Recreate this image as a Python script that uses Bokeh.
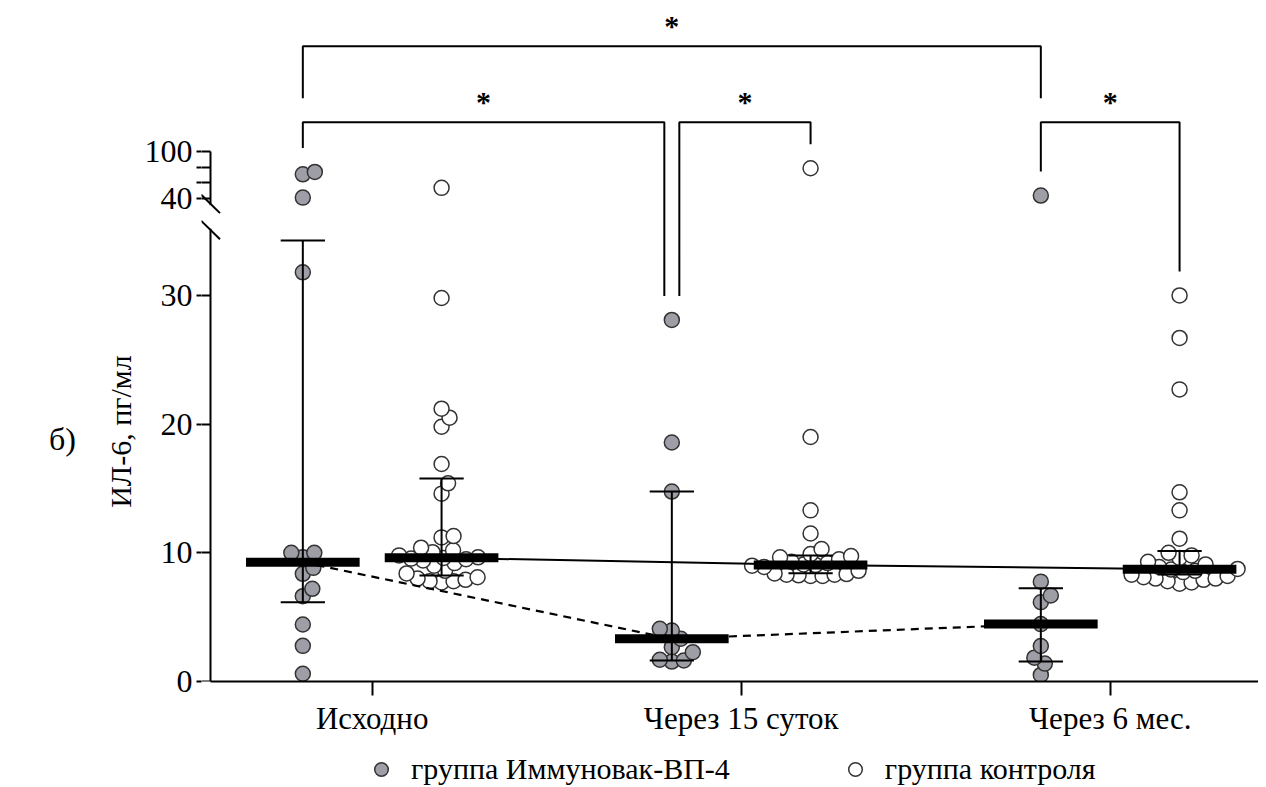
import numpy as np
from bokeh.plotting import figure
from bokeh.layouts import row, column
from bokeh.models import (ColumnDataSource, FixedTicker, BoxAnnotation, PolyAnnotation,
                          Legend, LegendItem, Range1d, LinearAxis)
from bokeh.core.properties import value
from bokeh.embed import file_html
from bokeh.resources import INLINE

# ---------------- data ----------------
categories = ["Исходно", "Через 15 суток", "Через 6 мес."]
series_labels = ["группа Иммуновак-ВП-4", "группа контроля"]
y_title = "ИЛ-6, пг/мл"
panel_letter = "б)"

immun_baseline = [0.6, 2.77, 4.43, 6.63, 7.2, 8.37, 8.83, 9.66, 10.0, 10.0, 31.8, 40.9, 70.8, 73.9]
immun_15d = [1.55, 1.63, 1.69, 2.28, 2.67, 3.32, 3.96, 4.09, 14.76, 18.57, 28.1]
immun_6m = [0.51, 1.39, 1.85, 2.76, 4.46, 6.16, 6.68, 7.76, 43.5]

control_baseline = [7.7, 7.8, 7.8, 7.9, 8.0, 8.1, 8.4, 8.6, 9.0, 9.2, 9.4, 9.5, 9.55, 9.6, 9.65,
                    9.8, 10.05, 10.2, 10.4, 11.2, 11.3, 14.6, 15.4, 16.9, 19.8, 20.5, 21.2, 29.8, 53.4]
control_15d = [8.2, 8.2, 8.25, 8.3, 8.3, 8.35, 8.4, 8.6, 8.9, 9.0, 9.05, 9.1, 9.2, 9.3, 9.5,
               9.65, 9.75, 9.9, 10.3, 11.5, 13.3, 19.0, 78.6]
control_6m = [7.6, 7.7, 7.8, 7.9, 8.0, 8.0, 8.1, 8.2, 8.3, 8.5, 8.6, 8.7, 8.75, 8.9, 9.1, 9.3,
              9.6, 9.8, 10.0, 11.1, 13.3, 14.7, 22.7, 26.7, 30.0]

immun_median = [9.27, 3.32, 4.46]
immun_low = [6.16, 1.63, 1.56]
immun_high = [34.27, 14.76, 7.24]
control_median = [9.61, 9.06, 8.72]
control_low = [8.24, 8.42, 8.32]
control_high = [15.77, 9.79, 10.14]

lower_ticks = [0, 10, 20, 30]
upper_ticks = [40, 60, 80, 100]
upper_tick_labels = ["40", "", "", "100"]

# significance brackets: (category, series) pairs, level (0 = lower, 1 = upper)
brackets = [
    ((0, "i"), (1, "i"), 0),
    ((1, "i"), (1, "c"), 0),
    ((2, "i"), (2, "c"), 0),
    ((0, "i"), (2, "i"), 1),
]

# ---------------- layout ----------------
FONT = "Liberation Serif"
PX_X = 369.0                  # px per category step
CAT0_PX = 371.7               # page x of first category
FRAME_LEFT_PX, AXIS_PX, RIGHT_PX = 201, 210, 1258
LEFT_W = 140
FRAME_W = RIGHT_PX - FRAME_LEFT_PX
FRAME_H = 673
X_RANGE = ((FRAME_LEFT_PX - CAT0_PX) / PX_X, (RIGHT_PX - CAT0_PX) / PX_X)
X_AXIS = (AXIS_PX - CAT0_PX) / PX_X
Y_RANGE = (0.0, 52.3)
PX_Y = FRAME_H / (Y_RANGE[1] - Y_RANGE[0])
BOTTOM_PX = 681


def ypx(page_y):
    return (BOTTOM_PX - page_y) / PX_Y


GROUP_OFF = 0.188
BREAK_BASE, UPPER_SLOPE = 37.55, 0.0605   # upper segment (40..100) display mapping
GRAY = "#9e9ea6"
EDGE = "#333333"
DIAM = 15


def disp(v):
    v = np.asarray(v, dtype=float)
    return np.where(v < 37, v, BREAK_BASE + (v - 40.0) * UPPER_SLOPE)


def swarm(vals, diam=12.0):
    yd = disp(vals) * PX_Y
    order = np.argsort(yd, kind="stable")
    placed, offs = [], np.zeros(len(yd))
    for i in order:
        k = 0
        while True:
            cands = [0.0] if k == 0 else [0.5 * k, -0.5 * k]
            ok = None
            for c in cands:
                if all((c - px) ** 2 + (yd[i] - py) ** 2 >= diam ** 2 for px, py in placed):
                    ok = c
                    break
            if ok is not None:
                offs[i] = ok
                placed.append((ok, yd[i]))
                break
            k += 1
    return offs / PX_X


yr = Range1d(*Y_RANGE)
p = figure(frame_width=FRAME_W, frame_height=FRAME_H, x_range=X_RANGE, y_range=yr,
           output_backend="svg", toolbar_location=None,
           min_border_left=FRAME_LEFT_PX - LEFT_W, min_border_top=8, min_border_right=0,
           min_border_bottom=0)
p.outline_line_color = None
p.grid.visible = False
p.background_fill_color = "white"
p.border_fill_color = "white"

lt = [float(v) for v in disp(lower_ticks)]
ut = [round(float(v), 4) for v in disp(upper_ticks)]
yticks = lt + ut
ov = {v: str(t) for v, t in zip(lt, lower_ticks)}
ov.update({v: s for v, s in zip(ut, upper_tick_labels)})

# x axis
p.xaxis.ticker = FixedTicker(ticks=list(range(len(categories))))
p.xaxis.major_label_overrides = {i: c for i, c in enumerate(categories)}
p.xaxis.bounds = (X_AXIS, X_RANGE[1] + 0.1)
p.xaxis.major_tick_out = 14
p.xaxis.major_label_text_font_size = "31px"
p.xaxis.major_label_standoff = 5

# y axis, outer part: tick labels and outer part of the ticks
ya = p.yaxis[0]
ya.ticker = FixedTicker(ticks=yticks)
ya.major_label_overrides = ov
ya.axis_line_color = None
ya.major_tick_out = 5
ya.major_label_text_font_size = "32px"
ya.major_label_standoff = 4

# y axis, inner part at the axis position (broken line + inner part of ticks)
yb = LinearAxis(fixed_location=X_AXIS, ticker=FixedTicker(ticks=yticks),
                major_label_overrides={v: "" for v in yticks}, bounds=(0, ut[-1]))
yb.major_tick_out = 0
yb.major_tick_in = AXIS_PX - FRAME_LEFT_PX
yb.major_label_standoff = 0
p.add_layout(yb, "right")

for ax in (p.xaxis[0], ya, yb):
    ax.axis_line_width = 2
    if ax is not ya:
        ax.axis_line_color = "black"
    ax.major_tick_line_width = 2
    ax.major_tick_line_color = "black"
    ax.minor_tick_line_color = None
    ax.major_label_text_font = FONT
    ax.major_label_text_color = "black"
p.xaxis.major_tick_in = 0
ya.major_tick_in = 0

series = [
    ("i", [immun_baseline, immun_15d, immun_6m], immun_median, immun_low, immun_high, -GROUP_OFF, GRAY),
    ("c", [control_baseline, control_15d, control_6m], control_median, control_low, control_high, GROUP_OFF, "white"),
]

top_of = {}
for key, groups, med, lo, hi, off, fill in series:
    xs, ys = [], []
    for gi, vals in enumerate(groups):
        jitter = swarm(vals)
        xs += list(gi + off + jitter)
        ys += list(disp(vals))
        top_of[(gi, key)] = float(disp(vals).max())
    src = ColumnDataSource(dict(x=xs, y=ys))
    p.scatter("x", "y", source=src, size=DIAM, marker="circle", fill_color=fill,
              line_color=EDGE, line_width=1.5)

# connecting lines between medians
cx = np.arange(len(categories))
p.line(cx - GROUP_OFF, immun_median, line_color="black", line_width=2.2, line_dash="8 6")
p.line(cx + GROUP_OFF, control_median, line_color="black", line_width=2)

# error bars + median bars
for key, groups, med, lo, hi, off, fill in series:
    x = cx + off
    lo_d, hi_d = disp(lo), disp(hi)
    p.segment(x, lo_d, x, hi_d, line_color="black", line_width=2)
    p.segment(x - 0.06, hi_d, x + 0.06, hi_d, line_color="black", line_width=2)
    p.segment(x - 0.06, lo_d, x + 0.06, lo_d, line_color="black", line_width=2)
    p.segment(x - 0.154, med, x + 0.154, med, line_color="black", line_width=9, line_cap="butt")

# significance brackets
gap = 24 / PX_Y
level_y = [ypx(121.7), ypx(45.7)]
leg_shift = 7.5 / PX_X
stars_x, stars_y = [], []
for (g0, s0), (g1, s1), lev in brackets:
    xa = g0 + (-GROUP_OFF if s0 == "i" else GROUP_OFF)
    xb = g1 + (-GROUP_OFF if s1 == "i" else GROUP_OFF)
    if lev == 0 and (g0, s0) == (1, "i"):
        xa += leg_shift
    if lev == 0 and (g1, s1) == (1, "i"):
        xb -= leg_shift
    ly = level_y[lev]
    if lev == 0:
        ya_, yb_ = top_of[(g0, s0)] + gap, top_of[(g1, s1)] + gap
    else:
        ya_ = yb_ = level_y[0] + gap
    p.line([xa, xa, xb, xb], [ya_, ly, ly, yb_], line_color="black", line_width=2)
    stars_x.append((xa + xb) / 2)
    stars_y.append(ly + 21 / PX_Y)
p.text(stars_x, stars_y, text=["*"] * len(stars_x), text_font=value(FONT), text_font_size="30px",
       text_font_style="bold", text_align="center", text_baseline="alphabetic", text_color="black")

# axis break: white mask over the axis line + two slashes
b_lo, b_hi = ypx(229.5), ypx(203.3)
p.add_layout(BoxAnnotation(left=X_AXIS - 0.02, right=X_AXIS + 0.02, bottom=b_lo + 0.1, top=b_hi - 0.1,
                           fill_color="white", fill_alpha=1.0, line_alpha=0.0, level="overlay"))
dx, dy = 9.5 / PX_X, 9.3 / PX_Y
for yc in (b_lo, b_hi):
    p.add_layout(PolyAnnotation(xs=[X_AXIS - dx, X_AXIS + dx], ys=[yc + dy, yc - dy], line_color="black",
                                line_alpha=1.0, line_width=2, fill_alpha=0.0, level="overlay"))

# left strip: panel letter and the y-axis title
left = figure(frame_width=LEFT_W, frame_height=FRAME_H, x_range=(0, LEFT_W), y_range=yr,
              output_backend="svg", toolbar_location=None, min_border_left=0, min_border_right=0,
              min_border_top=8, min_border_bottom=0, x_axis_location=None, y_axis_location=None)
left.outline_line_color = None
left.grid.visible = False
left.text([62], [ypx(438)], text=[panel_letter], text_font=value(FONT), text_font_size="32px",
          text_align="center", text_baseline="middle", text_color="black")
left.text([120], [ypx(431)], text=[y_title], angle=np.pi / 2, text_font=value(FONT),
          text_font_size="30px", text_align="center", text_baseline="middle", text_color="black")

# legend strip below the chart (legend carriers sit outside the visible range)
lf = figure(frame_width=RIGHT_PX, frame_height=48, x_range=(0, 1), y_range=(0, 1),
            output_backend="svg", toolbar_location=None, min_border=0,
            x_axis_location=None, y_axis_location=None)
lf.outline_line_color = None
lf.grid.visible = False
r_i = lf.scatter([-9], [-9], size=DIAM, marker="circle", fill_color=GRAY, line_color=EDGE, line_width=1.5)
r_c = lf.scatter([-9], [-9], size=DIAM, marker="circle", fill_color="white", line_color=EDGE, line_width=1.5)
legend = Legend(items=[LegendItem(label=series_labels[0], renderers=[r_i]),
                       LegendItem(label=series_labels[1], renderers=[r_c])],
                orientation="horizontal", location=(364, 0), border_line_color=None,
                background_fill_alpha=0, glyph_width=34, glyph_height=34, label_standoff=13,
                spacing=108, label_text_font=FONT, label_text_font_size="30px",
                label_text_color="black", padding=0, margin=0)
lf.add_layout(legend, "center")

layout = column(row(left, p, spacing=0), lf, spacing=0)
open("out.html", "w").write(file_html(layout, INLINE))
